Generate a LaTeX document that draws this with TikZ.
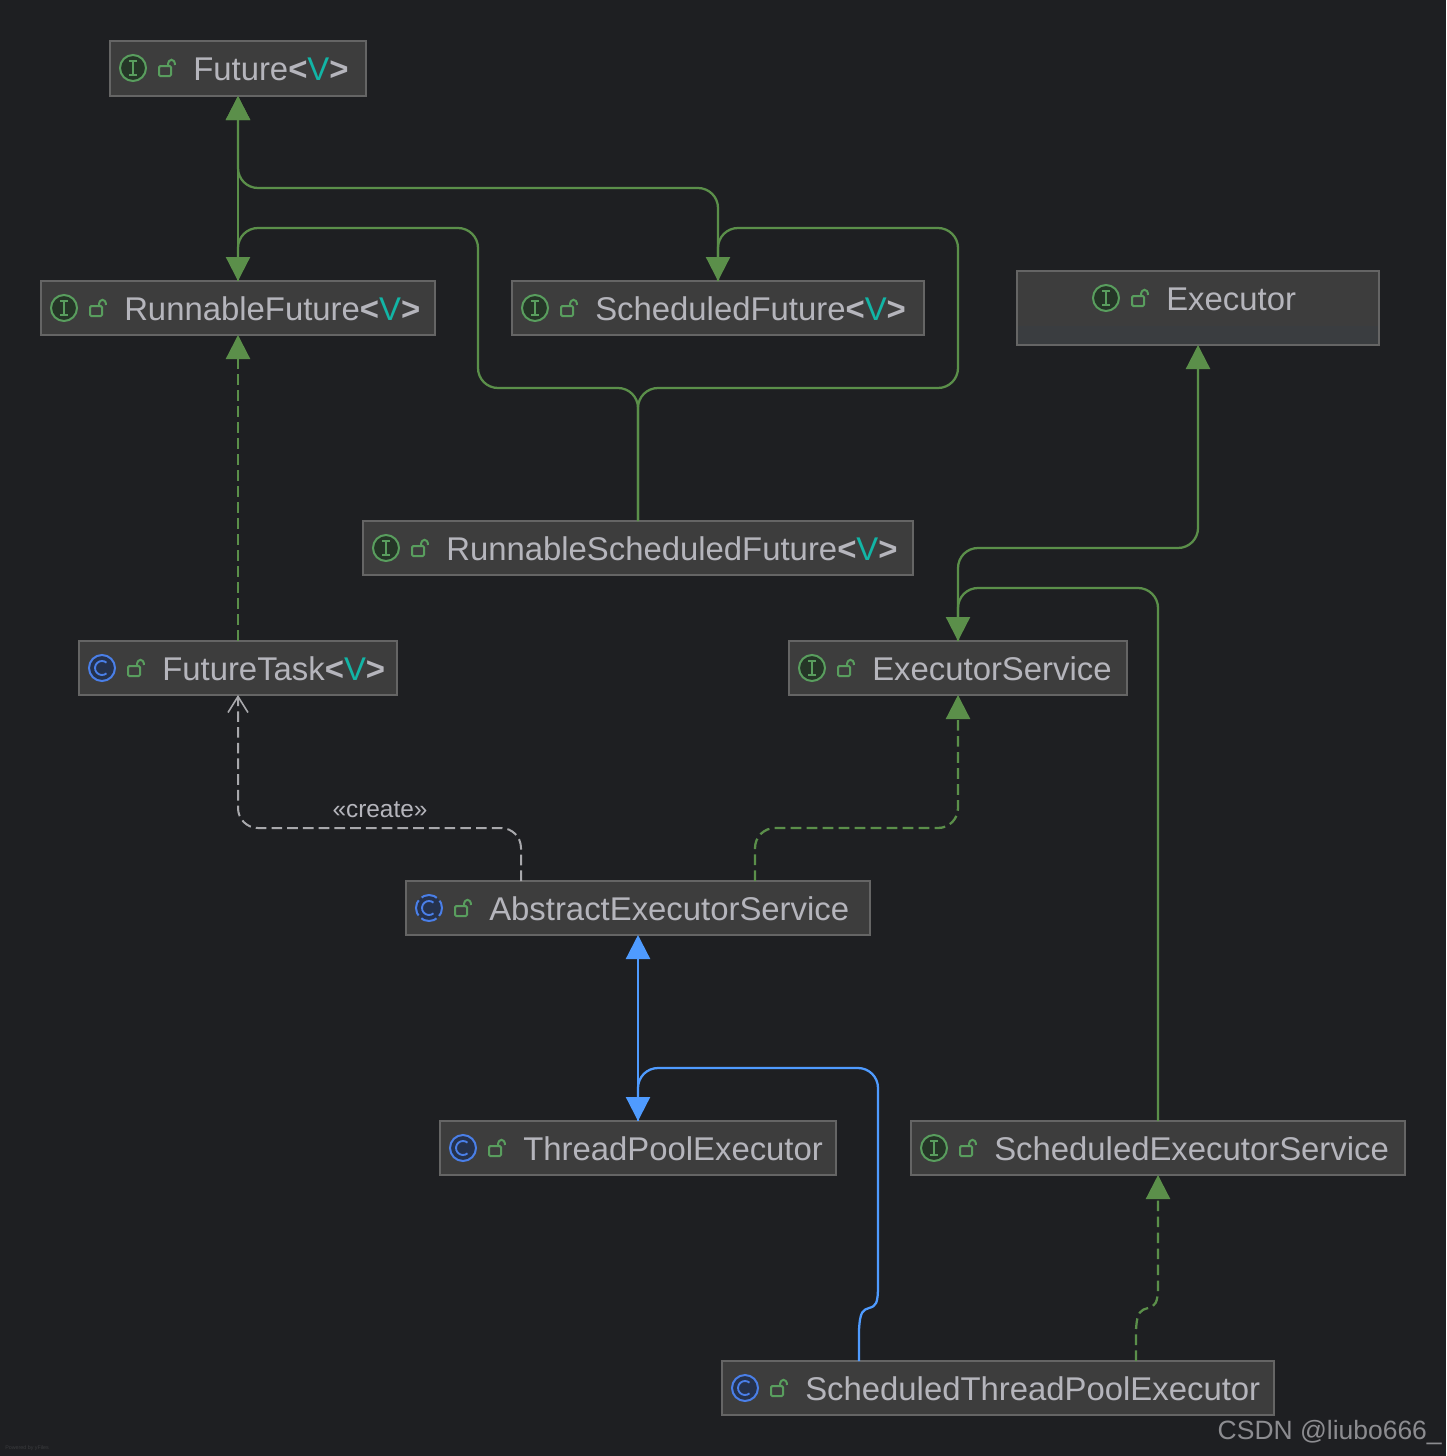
\documentclass[tikz,border=0pt]{standalone}
\usepackage{fontspec}
\setmainfont{Liberation Sans}
\usetikzlibrary{arrows.meta,fit,calc}
\definecolor{bgc}{HTML}{1E1F22}
\definecolor{boxc}{HTML}{3D3D3D}
\definecolor{stripc}{HTML}{3A3D40}
\definecolor{edgec}{HTML}{656565}
\definecolor{textc}{HTML}{B5B5BC}
\definecolor{greenc}{HTML}{5B8F4A}
\definecolor{bluec}{HTML}{4F9BFF}
\definecolor{iconb}{HTML}{4A7FE8}
\definecolor{iconbf}{HTML}{25324D}
\definecolor{icong}{HTML}{599E5E}
\definecolor{icongf}{HTML}{253627}
\definecolor{tealc}{HTML}{12B5A6}
\definecolor{depc}{HTML}{A8A8AC}
\definecolor{markc}{HTML}{8C8C90}
\definecolor{tinyc}{HTML}{3A3B3E}
\tikzset{
  x=0.75pt,y=-0.75pt,
  boxnode/.style={draw=edgec,fill=boxc,line width=0.8pt,inner sep=0pt,outer sep=0pt},
  lbl/.style={text=textc,font=\fontsize{24.65pt}{28pt}\selectfont,inner sep=0pt,anchor=base west},
  solidgreen/.style={draw=greenc,line width=1.7pt,rounded corners=15pt,-{Triangle[length=18pt,width=18pt,fill=greenc]}},
  dashgreen/.style={solidgreen,dash pattern=on 8pt off 4pt},
  solidblue/.style={draw=bluec,line width=1.7pt,rounded corners=15pt,-{Triangle[length=18pt,width=18pt,fill=bluec]}},
  depline/.style={draw=depc,line width=1.5pt,rounded corners=15pt,dash pattern=on 8pt off 3.8pt,-{Straight Barb[length=12pt,width=15pt,line width=1.2pt]}},
  pics/lockicon/.style={code={
    \draw[icong,line width=1.5pt,rounded corners=1pt] (-8,-2) rectangle (4,8);
    \draw[icong,line width=1.5pt] (1,-2) -- (1,-3) .. controls (1,-10) and (8,-10) .. (8,-3);
  }},
  pics/ifaceicon/.style={code={
    \draw[icong,fill=icongf,line width=1.5pt] (0,0) circle (13);
    \draw[icong,line width=1.4pt] (-4,-7) -- (4,-7) (-4,7) -- (4,7) (0,-7) -- (0,7);
  }},
  pics/classicon/.style={code={
    \draw[iconb,fill=iconbf,line width=1.5pt] (0,0) circle (13);
    \draw[iconb,line width=1.4pt] (0,0) ++(50:7) arc[start angle=50,end angle=310,radius=7];
  }},
  pics/abstracticon/.style={code={
    \fill[iconbf] (0,0) circle (13);
    \draw[iconb,line width=1.5pt,dash pattern=on 12.3pt off 3pt,dash phase=-1.5pt] (0,0) ++(45:13) arc[start angle=45,end angle=405,radius=13];
    \draw[iconb,line width=1.4pt] (0,0) ++(50:7) arc[start angle=50,end angle=310,radius=7];
  }},
}
\newcommand{\gen}{{\bfseries<}{\color{tealc}V}{\bfseries>}}
% name, x1,y1,x2,y2, icon, text x, text
\newcommand{\umlbox}[8]{%
  \coordinate (#1-a) at (#2,#3);
  \coordinate (#1-b) at (#4,#5);
  \node[boxnode,fit=(#1-a)(#1-b)] (#1) {};
  \node[lbl] (#1-text) at (#7-1,#3+39) {#8};
  \pic at (#7-61,#3+27) {#6};
  \pic at (#7-27,#3+27) {lockicon};
}
\begin{document}
\begin{tikzpicture}
\useasboundingbox (0,0) rectangle (1446,1456);
\fill[bgc] (0,0) rectangle (1446,1456);

\umlbox{future}{110}{41}{366}{96}{ifaceicon}{194}{Future\gen}
\umlbox{rf}{41}{281}{435}{335}{ifaceicon}{125}{RunnableFuture\gen}
\umlbox{sf}{512}{281}{924}{335}{ifaceicon}{596}{ScheduledFuture\gen}
\umlbox{exec}{1017}{271}{1379}{345}{ifaceicon}{1167}{Executor}
\fill[stripc] (1018,326) rectangle (1378,344);
\umlbox{rsf}{363}{521}{913}{575}{ifaceicon}{447}{RunnableScheduledFuture\gen}
\umlbox{ft}{79}{641}{397}{695}{classicon}{163}{FutureTask\gen}
\umlbox{es}{789}{641}{1127}{695}{ifaceicon}{873}{ExecutorService}
\umlbox{aes}{406}{881}{870}{935}{abstracticon}{490}{AbstractExecutorService}
\umlbox{tpe}{440}{1121}{836}{1175}{classicon}{524}{ThreadPoolExecutor}
\umlbox{ses}{911}{1121}{1405}{1175}{ifaceicon}{995}{ScheduledExecutorService}
\umlbox{stpe}{722}{1361}{1274}{1415}{classicon}{806}{ScheduledThreadPoolExecutor}

\coordinate (aesL) at ($(aes.north)+(-117,0)$);
\coordinate (aesR) at ($(aes.north)+(117,0)$);
\coordinate (stpeL) at ($(stpe.north)+(-139,0)$);
\coordinate (stpeR) at ($(stpe.north)+(138,0)$);

% Green generalisations
\draw[solidgreen] (rf.north) -- (future.south);
\draw[solidgreen] (sf.north) -- (718,188) -- (238,188) -- (future.south);
\draw[solidgreen] (rsf.north) -- (638,388) -- (478,388) -- (478,228) -- (238,228) -- (rf.north);
\draw[solidgreen] (rsf.north) -- (638,388) -- (958,388) -- (958,228) -- (718,228) -- (sf.north);
\draw[dashgreen] (ft.north) -- (rf.south);
\draw[dashgreen] (aesR) -- (755,828) -- (958,828) -- (es.south);
\draw[solidgreen] (es.north) -- (958,548) -- (1198,548) -- (exec.south);
\draw[solidgreen] (ses.north) -- (1158,588) -- (958,588) -- (es.north);
\draw[dashgreen,rounded corners=0pt] (stpeR) -- (1136,1330) .. controls (1137,1311) and (1141,1310) .. (1148,1308) .. controls (1155,1306) and (1158,1304) .. (1158,1285) -- (ses.south);

% Dependency
\draw[depline] (aesL) -- (521,828) -- (238,828) -- (ft.south);
\node[text=textc,font=\fontsize{18.3pt}{20pt}\selectfont,inner sep=0pt] (createlbl) at (380,810) {«create»};

% Blue generalisations
\draw[solidblue] (tpe.north) -- (aes.south);
\draw[solidblue,rounded corners=0pt] (stpeL) -- (859,1330) .. controls (860,1311) and (863,1310) .. (869,1308) .. controls (876,1306) and (878,1304) .. (878,1285) [rounded corners=15pt] -- (878,1068) -- (638,1068) -- (tpe.north);

% Marks
\node[text=markc,font=\fontsize{19.85pt}{24pt}\selectfont,inner sep=0pt,anchor=base east] (csdn) at (1442,1439) {CSDN @liubo666\_};
\node[text=tinyc,font=\fontsize{4pt}{5pt}\selectfont,inner sep=0pt,anchor=base west] (yfiles) at (5,1449) {Powered by yFiles};
\end{tikzpicture}
\end{document}
